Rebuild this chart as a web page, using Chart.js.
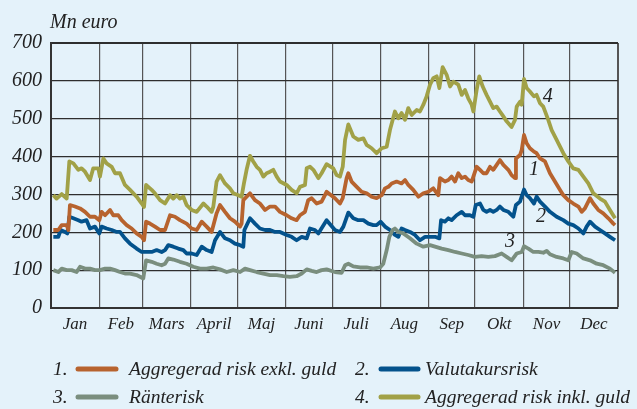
<!DOCTYPE html>
<html lang="sv">
<head>
<meta charset="UTF-8">
<title>Risk</title>
<script src="https://cdn.jsdelivr.net/npm/chart.js"></script>
<style>
  html, body { margin: 0; padding: 0; background: #e4f2fa; }
  #wrap { width: 637px; height: 409px; position: relative; }
</style>
</head>
<body>
<div id="wrap"><canvas id="riskChart"></canvas></div>
<script>
// month boundaries (day of year) and labels
const monthStarts = [0, 31, 59, 90, 120, 151, 181, 212, 243, 273, 304, 334, 365];
const monthNames = ['Jan', 'Feb', 'Mars', 'April', 'Maj', 'Juni', 'Juli', 'Aug', 'Sep', 'Okt', 'Nov', 'Dec'];
const yTicks = [0, 100, 200, 300, 400, 500, 600, 700];

const seriesNames = ['Aggregerad risk exkl. guld', 'Valutakursrisk', 'Ränterisk', 'Aggregerad risk inkl. guld'];
const seriesColors = ['#b7632e', '#03528c', '#7a8e7e', '#a1a147'];

// 1. Aggregerad risk exkl. guld
const exklDays = [1.5,4.7,6.9,10.1,11.2,12.2,15.4,18.7,21.9,25.1,28.3,31.1,32.6,34.8,38.0,40.1,43.3,45.5,48.7,51.9,55.1,58.4,59.9,61.2,63.7,66.9,70.2,73.4,76.6,79.8,83.0,87.3,90.5,93.8,97.0,100.2,103.4,106.6,108.8,112.0,115.2,118.4,121.7,122.7,123.8,128.1,131.3,134.5,137.8,141.0,144.2,147.4,151.7,154.9,158.1,160.3,163.5,165.6,167.8,171.0,174.2,177.4,182.8,186.0,187.8,190.3,191.4,193.5,196.8,200.0,203.2,206.4,209.6,212.9,215.0,217.2,219.3,222.5,225.7,227.9,230.0,233.2,236.5,239.7,242.9,246.1,249.3,250.4,253.6,255.8,257.9,260.1,262.2,264.4,266.5,268.6,270.8,271.9,274.0,276.2,278.3,280.4,282.6,284.7,286.9,289.0,291.2,294.4,296.5,298.7,299.3,301.9,303.0,304.5,306.2,308.3,310.9,312.6,314.8,318.0,321.2,324.4,327.7,329.8,333.0,336.2,339.5,341.6,343.7,347.0,349.1,352.3,355.5,358.8,362.0,363.1];
const exklVals = [206,206,219,219,206,272,268,263,254,241,241,232,254,245,259,245,245,232,219,210,197,188,179,228,223,215,206,206,245,241,232,223,210,206,228,215,201,250,272,254,237,228,215,223,285,303,285,276,259,268,268,254,245,237,232,245,254,285,290,276,281,307,290,276,290,343,356,334,320,307,303,294,290,298,316,320,329,334,329,338,325,312,294,303,307,316,298,343,334,338,347,334,356,343,347,338,334,347,373,365,356,356,373,365,378,391,378,365,351,343,395,404,417,457,435,422,413,409,395,387,356,334,312,298,285,276,268,254,263,290,276,259,250,237,223,219];

// 2. Valutakursrisk
const valutaDays = [1.5,4.7,6.2,9.0,10.5,11.8,14.4,17.6,19.7,22.9,25.1,28.3,31.1,32.6,35.8,39.1,42.3,44.4,47.6,50.9,55.1,58.4,61.6,64.8,68.0,71.2,73.4,75.5,78.7,81.9,85.2,87.3,90.5,93.8,97.0,100.2,103.4,105.6,108.8,112.0,115.2,118.4,121.7,123.8,124.5,128.1,131.3,134.5,137.8,141.0,144.2,147.4,151.7,154.9,158.1,161.4,164.6,166.7,169.9,172.1,177.4,182.8,186.0,188.2,191.4,194.6,197.8,201.1,204.3,207.5,209.6,212.2,215.0,218.2,221.4,223.6,225.7,227.9,231.1,234.3,237.5,240.8,244.0,247.2,250.0,251.1,253.6,255.8,257.9,261.1,264.4,266.5,269.7,271.9,273.4,276.2,278.3,280.4,282.6,284.7,286.9,289.0,291.2,294.4,297.6,299.3,301.9,304.5,306.2,308.3,310.9,312.6,314.8,318.0,321.2,325.5,329.8,333.0,336.2,339.5,342.7,344.8,347.0,350.2,353.4,356.6,359.8,363.1];
const valutaVals = [188,188,206,201,197,241,237,232,228,232,210,215,197,215,210,206,201,201,184,170,157,148,148,148,153,148,153,166,162,157,153,144,144,140,162,153,148,179,201,184,179,170,166,162,206,237,223,210,206,206,201,201,193,188,179,188,184,210,206,197,232,206,201,215,252,237,232,232,223,219,219,228,215,206,193,188,210,206,201,193,179,188,188,188,184,232,228,237,232,245,254,245,245,241,272,276,259,254,259,254,259,268,259,254,241,272,281,313,298,290,276,294,281,268,254,241,232,223,219,210,197,215,228,215,206,197,188,179];

// 3. Ränterisk
const ranteDays = [1.5,4.7,6.9,10.1,13.3,16.5,18.7,21.9,25.1,28.3,31.5,34.8,38.0,41.2,44.4,47.6,50.9,55.1,59.4,61.2,64.8,68.0,71.2,73.4,75.5,78.7,83.0,87.3,91.6,95.9,100.2,104.5,108.8,113.1,117.4,121.7,124.9,128.1,132.4,136.7,141.0,145.3,149.6,153.8,158.1,161.4,164.6,167.8,171.0,174.2,177.4,182.8,187.1,189.3,191.4,194.6,198.9,203.2,207.5,211.8,213.9,216.1,217.8,219.9,221.4,223.6,226.8,231.1,235.4,239.7,244.0,247.2,251.5,255.8,260.1,264.4,268.6,272.9,277.2,281.5,285.8,290.1,293.3,296.5,299.8,303.0,304.5,307.3,310.5,313.7,316.9,319.1,321.2,325.5,329.8,333.0,335.2,338.4,342.7,347.0,351.3,355.5,359.8,363.1];
const ranteVals = [100,95,104,100,100,95,109,104,104,100,100,104,104,100,95,91,91,87,78,126,122,117,113,117,131,128,122,117,109,104,104,107,102,95,100,95,104,100,95,91,87,87,84,82,84,91,102,98,95,100,102,95,93,113,117,110,107,107,104,107,117,153,188,206,210,201,197,184,170,162,166,162,157,153,148,144,140,135,137,135,137,144,135,126,144,148,163,157,148,148,146,151,142,135,131,126,148,144,131,126,117,113,104,93];

// 4. Aggregerad risk inkl. guld
const inklDays = [1.5,3.6,6.9,10.1,11.8,14.4,17.6,19.7,21.9,25.1,27.2,30.5,31.5,33.7,35.8,39.1,41.2,44.4,47.6,50.9,55.1,58.4,59.9,61.2,64.8,66.9,70.2,73.4,76.6,78.7,80.9,83.0,85.2,87.3,90.5,93.8,98.1,100.2,103.4,104.5,106.6,108.8,112.0,115.2,117.4,120.6,122.7,124.2,125.9,128.1,130.2,132.4,134.5,136.7,138.8,141.0,143.1,145.3,147.4,151.7,154.9,158.1,160.3,163.5,164.6,166.7,168.9,172.1,174.2,177.4,181.7,183.9,186.0,187.8,189.3,191.4,194.6,197.8,201.1,203.2,206.4,209.6,212.9,216.1,218.2,221.4,223.6,225.7,227.9,230.0,232.2,235.4,237.5,239.7,241.8,244.0,246.1,248.3,250.0,252.1,254.7,256.9,259.0,262.2,264.4,266.5,268.6,270.8,271.9,274.0,275.7,277.9,280.4,282.6,284.7,286.9,289.0,291.2,293.3,296.5,298.7,299.8,301.9,303.0,304.5,306.2,308.3,310.9,312.6,314.8,316.9,320.1,322.3,325.5,329.8,333.0,336.2,339.5,342.7,345.9,349.1,353.4,356.6,359.8,363.1];
const inklVals = [298,289,301,289,387,382,365,369,360,338,369,369,347,395,382,373,356,356,325,312,294,276,267,325,312,303,285,276,298,289,298,289,294,272,259,254,276,268,254,268,334,351,329,316,303,298,294,329,365,402,387,373,365,347,356,360,365,347,334,325,312,303,320,325,369,373,365,343,356,380,369,351,347,373,444,485,453,444,448,431,422,409,422,426,470,519,501,515,497,528,510,523,519,537,559,590,607,612,581,636,616,585,598,590,563,576,554,537,519,576,612,585,563,545,528,532,519,506,493,478,497,532,545,537,605,581,572,559,563,541,532,497,470,444,409,387,369,365,347,329,303,289,281,259,237];

// numbers written next to the lines
const annoText = ['1', '2', '3', '4'];
const annoDays = [310.9, 315.4, 295.5, 319.7];
const annoVals = [365, 240, 174, 559];

const serif = "'Liberation Serif', 'DejaVu Serif', serif";
const ink = '#222';

const pts = (days, vals) => days.map((d, i) => ({ x: d, y: vals[i] }));
const allData = [pts(exklDays, exklVals), pts(valutaDays, valutaVals), pts(ranteDays, ranteVals), pts(inklDays, inklVals)];

const monthMids = monthNames.map((m, i) => (monthStarts[i] + monthStarts[i + 1]) / 2);

const extras = {
    id: 'extras',
    afterDatasetsDraw(chart) {
        const { ctx, scales } = chart;
        ctx.save();
        ctx.fillStyle = ink;
        ctx.font = `italic 20px ${serif}`;
        ctx.textAlign = 'center';
        ctx.textBaseline = 'middle';
        annoText.forEach((t, i) => {
            ctx.fillText(t, scales.x.getPixelForValue(annoDays[i]), scales.y.getPixelForValue(annoVals[i]));
        });
        ctx.restore();
    },
    afterDraw(chart) {
        const ctx = chart.ctx;
        ctx.save();
        ctx.fillStyle = ink;
        ctx.font = `italic 20px ${serif}`;
        ctx.textBaseline = 'alphabetic';
        ctx.fillText('Mn euro', 50, 28);
        // legend: two columns, two rows (number, line sample, text)
        const numX = [53, 355];
        const lineX = [[78, 116], [381, 418]];
        const textX = [129, 425];
        const rows = [375, 403];
        ctx.font = `italic 19.5px ${serif}`;
        seriesNames.forEach((name, s) => {
            const c = s % 2;
            const by = rows[Math.floor(s / 2)];
            ctx.fillStyle = ink;
            ctx.fillText((s + 1) + '.', numX[c], by);
            ctx.strokeStyle = seriesColors[s];
            ctx.lineWidth = 5;
            ctx.lineCap = 'round';
            ctx.beginPath();
            ctx.moveTo(lineX[c][0], by - 6);
            ctx.lineTo(lineX[c][1], by - 6);
            ctx.stroke();
            ctx.fillText(name, textX[c], by);
        });
        ctx.restore();
    }
};

new Chart(document.getElementById('riskChart'), {
    type: 'line',
    data: {
        datasets: seriesNames.map((name, i) => ({
            label: name,
            data: allData[i],
            borderColor: seriesColors[i],
            borderWidth: 3.8,
            borderJoinStyle: 'round',
            pointRadius: 0,
            tension: 0,
            fill: false,
            order: i === 2 ? 0 : 1
        }))
    },
    options: {
        responsive: true,
        maintainAspectRatio: false,
        animation: false,
        layout: { padding: { top: 43, right: 19, left: 0, bottom: 0 } },
        plugins: { legend: { display: false }, tooltip: { enabled: false } },
        scales: {
            x: {
                type: 'linear',
                min: 0,
                max: 365,
                afterBuildTicks: (scale) => {
                    scale.ticks = monthStarts.concat(monthMids).map(v => ({ value: v }));
                },
                afterFit: (scale) => { scale.height = 101; },
                grid: {
                    drawTicks: false,
                    color: (c) => monthStarts.includes(c.tick.value) ? '#555' : 'rgba(0,0,0,0)',
                    lineWidth: (c) => c.tick.value === 365 ? 2 : 1.2
                },
                border: { color: '#333', width: 2 },
                ticks: {
                    autoSkip: false,
                    maxRotation: 0,
                    padding: 6,
                    color: ink,
                    font: { family: serif, size: 17, style: 'italic' },
                    callback: (v) => {
                        const i = monthMids.indexOf(v);
                        return i >= 0 ? monthNames[i] : '';
                    }
                }
            },
            y: {
                min: 0,
                max: 700,
                afterBuildTicks: (scale) => { scale.ticks = yTicks.map(v => ({ value: v })); },
                afterFit: (scale) => { scale.width = 51; },
                grid: {
                    drawTicks: false,
                    color: '#2e2e2e',
                    lineWidth: (c) => c.tick.value === 700 ? 2 : 1.2
                },
                border: { color: '#333', width: 2 },
                ticks: {
                    padding: 9,
                    color: ink,
                    font: { family: serif, size: 20, style: 'italic' }
                }
            }
        }
    },
    plugins: [extras]
});
</script>
</body>
</html>
